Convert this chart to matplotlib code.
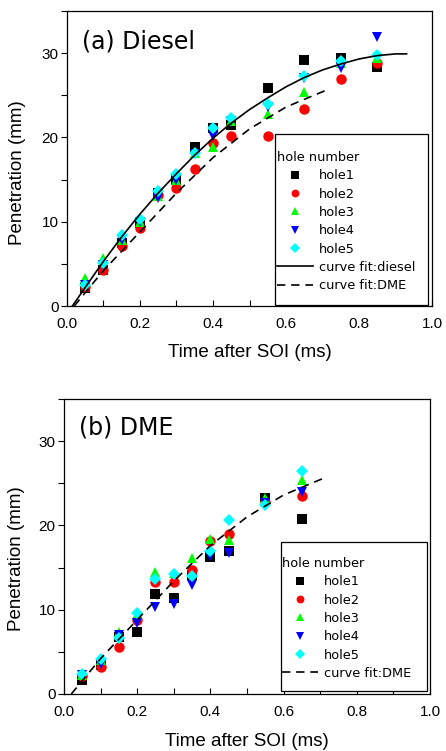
import matplotlib
matplotlib.use("Agg")
import matplotlib.pyplot as plt
from matplotlib.patches import Rectangle
from matplotlib.ticker import MultipleLocator, FormatStrFormatter

plt.rcParams['font.family'] = ['Liberation Sans', 'DejaVu Sans']

# czas po rozpoczeciu wtrysku (ms)
czas = [0.05, 0.10, 0.15, 0.20, 0.25, 0.30, 0.35, 0.40, 0.45, 0.55, 0.65, 0.75, 0.85]
czas_dme = [0.05, 0.10, 0.15, 0.20, 0.25, 0.30, 0.35, 0.40, 0.45, 0.55, 0.65]

# (a) olej napedowy - zasieg strugi (mm)
diesel_h1 = [2.1, 4.3, 7.5, 9.8, 13.4, 15.0, 18.9, 21.1, 21.5, 25.9, 29.2, 29.4, 28.4]
diesel_h2 = [2.3, 4.3, 7.1, 9.3, 13.2, 14.0, 16.2, 19.3, 20.2, 20.2, 23.4, 26.9, 28.8]
diesel_h3 = [3.3, 5.7, 7.8, 10.0, 13.0, 14.9, 18.1, 18.9, 22.0, 22.8, 25.4, 28.8, 29.4]
diesel_h4 = [2.5, 4.9, 7.8, 10.0, 12.8, 14.9, 18.0, 20.2, 21.9, 23.6, 27.0, 28.2, 31.9]
diesel_h5 = [2.5, 5.1, 8.4, 10.3, 13.7, 15.7, 18.1, 21.1, 22.3, 24.0, 27.3, 29.0, 29.8]

# (b) DME - zasieg strugi (mm)
dme_h1 = [1.7, 3.4, 6.8, 7.3, 11.8, 11.4, 14.1, 16.3, 16.9, 23.3, 20.8]
dme_h2 = [2.1, 3.2, 5.6, 8.8, 13.3, 13.3, 14.7, 18.2, 19.0, 22.8, 23.5]
dme_h3 = [2.25, 4.0, 7.4, 9.4, 14.5, 14.4, 16.1, 18.4, 18.3, 23.2, 25.4]
dme_h4 = [2.2, 3.6, 7.0, 8.4, 10.3, 10.7, 12.9, 16.4, 16.7, 22.6, 23.9]
dme_h5 = [2.4, 4.2, 6.6, 9.6, 13.6, 14.2, 14.0, 17.0, 20.6, 22.4, 26.5]

# krzywe dopasowania
fit_diesel_t = [0.015, 0.05, 0.10, 0.15, 0.20, 0.25, 0.30, 0.35, 0.40, 0.45, 0.50,
                0.55, 0.60, 0.65, 0.70, 0.75, 0.80, 0.85, 0.90, 0.93]
fit_diesel_v = [0.0, 2.2, 5.3, 8.2, 10.9, 13.4, 15.7, 17.9, 19.9, 21.7, 23.3,
                24.7, 26.0, 27.1, 28.0, 28.7, 29.3, 29.7, 29.9, 29.9]
fit_dme_t = [0.02, 0.10, 0.20, 0.30, 0.40, 0.50, 0.60, 0.71]
fit_dme_v = [0.0, 4.2, 8.8, 13.4, 17.6, 21.0, 23.6, 25.6]

etykiety = ['hole1', 'hole2', 'hole3', 'hole4', 'hole5']
kolory = ['#000000', '#ff0000', '#00ff00', '#0000ff', '#00ffff']
znaczniki = ['s', 'o', '^', 'v', 'D']
rozmiary = [7, 7.5, 7.5, 7.5, 6.5]


def ustaw_osie(ax, ylab_xy, xlab_y):
    ax.set_xlim(0, 1.0)
    ax.set_ylim(0, 35)
    ax.xaxis.set_major_locator(MultipleLocator(0.2))
    ax.xaxis.set_minor_locator(MultipleLocator(0.1))
    ax.xaxis.set_major_formatter(FormatStrFormatter('%.1f'))
    ax.yaxis.set_major_locator(MultipleLocator(10))
    ax.yaxis.set_minor_locator(MultipleLocator(5))
    ax.tick_params(axis='x', which='both', direction='in', length=4, width=0.8,
                   labelsize=11, pad=8)
    ax.tick_params(axis='y', which='both', direction='out', length=4, width=0.8,
                   labelsize=11, pad=2)
    for s in ax.spines.values():
        s.set_linewidth(0.9)
    ax.set_xlabel("Time after SOI (ms)", fontsize=13.5)
    ax.set_ylabel("Penetration (mm)", fontsize=13.5)
    ax.xaxis.set_label_coords(0.5, xlab_y)
    ax.yaxis.set_label_coords(*ylab_xy)


def legenda(ax, ramka, anchor):
    # ramka legendy rysowana osobno, tak jak w oryginale (prawie przy osiach)
    x0, y0, x1, y1 = ramka
    ax.add_patch(Rectangle((x0, y0), x1 - x0, y1 - y0, transform=ax.transAxes,
                           facecolor='white', edgecolor='black', linewidth=0.9,
                           zorder=4))
    leg = ax.legend(title='hole number', loc='upper left', bbox_to_anchor=anchor,
                    prop={'family': 'DejaVu Sans', 'size': 9.3},
                    title_fontproperties={'family': 'DejaVu Sans', 'size': 9.3},
                    alignment='left', frameon=False, markerscale=0.75,
                    handlelength=2.8, handletextpad=0.46, labelspacing=0.41,
                    borderpad=0, borderaxespad=0)
    leg.set_zorder(5)
    return leg


fig = plt.figure(figsize=(4.46, 7.51), dpi=100)
ax1 = fig.add_axes([0.150, 0.5925, 0.819, 0.393])
ax2 = fig.add_axes([0.1435, 0.0759, 0.8206, 0.393])

serie_a = [diesel_h1, diesel_h2, diesel_h3, diesel_h4, diesel_h5]
for dane, et, k, m, r in zip(serie_a, etykiety, kolory, znaczniki, rozmiary):
    ax1.plot(czas, dane, linestyle='none', marker=m, color=k, markersize=r,
             markeredgewidth=0, label=et)
ax1.plot(fit_diesel_t, fit_diesel_v, color='black', linewidth=1.2, label='curve fit:diesel')
ax1.plot(fit_dme_t, fit_dme_v, color='black', linewidth=1.2, dashes=(5, 3.5),
         label='curve fit:DME')
ustaw_osie(ax1, (-0.112, 0.4525), -0.129)
ax1.text(0.04, 0.895, "(a) Diesel", transform=ax1.transAxes, fontsize=17,
         family='DejaVu Sans', va='center')
legenda(ax1, (0.570, 0.003, 0.989, 0.583), (0.575, 0.525))

serie_b = [dme_h1, dme_h2, dme_h3, dme_h4, dme_h5]
for dane, et, k, m, r in zip(serie_b, etykiety, kolory, znaczniki, rozmiary):
    ax2.plot(czas_dme, dane, linestyle='none', marker=m, color=k, markersize=r,
             markeredgewidth=0, label=et)
ax2.plot(fit_dme_t, fit_dme_v, color='black', linewidth=1.2, dashes=(5, 3.5),
         label='curve fit:DME')
ustaw_osie(ax2, (-0.107, 0.458), -0.132)
ax2.text(0.04, 0.903, "(b) DME", transform=ax2.transAxes, fontsize=17,
         family='DejaVu Sans', va='center')
legenda(ax2, (0.593, 0.010, 0.992, 0.516), (0.596, 0.464))

fig.savefig("out.png", dpi=100)
